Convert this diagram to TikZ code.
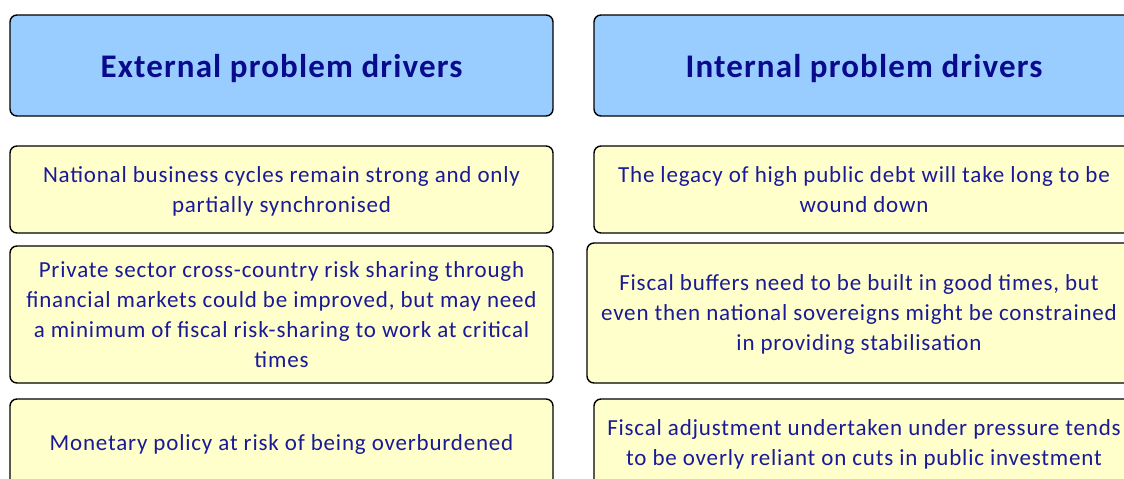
\documentclass[tikz,border=0pt]{standalone}
\usepackage{fontspec}
\setmainfont{Carlito}[LetterSpace=3.5]
\usepackage{tikz}

\definecolor{headfill}{HTML}{99CCFF}
\definecolor{itemfill}{HTML}{FFFFCC}
\definecolor{inktext}{HTML}{1A1A99}
\definecolor{inkhead}{HTML}{0A0A8C}

\begin{document}
\begin{tikzpicture}[x=1pt, y=-1pt,
    headbox/.style={draw=black, line width=1.4pt, rounded corners=7pt, fill=headfill,
      text=inkhead, font=\fontsize{33}{38}\selectfont\bfseries, align=center,
      inner sep=0pt, text depth=0pt},
    itembox/.style={draw=black, line width=1.4pt, rounded corners=7pt, fill=itemfill,
      text=inktext, font=\fontsize{23}{30}\selectfont, align=center,
      inner sep=0pt, text depth=0pt}]
      \useasboundingbox (0,0) rectangle (1124,479);
      \clip (0,0) rectangle (1124,479);

      % column headers
      \node[headbox, minimum width=543pt, minimum height=101pt] (exthead) at (281.5,65.5) {External problem drivers};
      \node[headbox, minimum width=540pt, minimum height=101pt] (inthead) at (864,65.5) {Internal problem drivers};

      % external drivers
      \node[itembox, minimum width=543pt, minimum height=87pt] (extone) at (281.5,189.5)
        {National business cycles remain strong and only\\partially synchronised};
      \node[itembox, minimum width=543pt, minimum height=137pt] (exttwo) at (281.5,314.5)
        {Private sector cross-country risk sharing through\\financial markets could be improved, but may need\\a minimum of fiscal risk-sharing to work at critical\\times};
      \node[itembox, minimum width=543pt, minimum height=88pt] (extthree) at (281.5,443)
        {Monetary policy at risk of being overburdened};

      % internal drivers
      \node[itembox, minimum width=540pt, minimum height=87pt] (intone) at (864,189.5)
        {The legacy of high public debt will take long to be\\wound down};
      \node[itembox, minimum width=544pt, minimum height=140pt] (inttwo) at (859,313)
        {Fiscal buffers need to be built in good times, but\\even then national sovereigns might be constrained\\in providing stabilisation};
      \node[itembox, minimum width=540pt, minimum height=88pt] (intthree) at (864,443)
        {Fiscal adjustment undertaken under pressure tends\\to be overly reliant on cuts in public investment};

    \end{tikzpicture}
\end{document}
